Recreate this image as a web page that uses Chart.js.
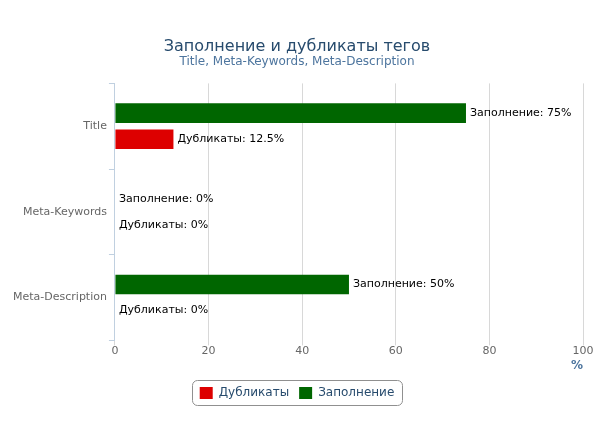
<!DOCTYPE html>
<html lang="ru">
<head>
    <meta charset="UTF-8">
    <title>Заполнение и дубликаты тегов</title>
    <script src="https://cdn.jsdelivr.net/npm/chart.js"></script>
    <style>
        body { margin: 0; background: #fff; }
        #wrap { width: 612px; height: 430px; }
    </style>
</head>
<body>
<div id="wrap"><canvas id="myChart"></canvas></div>
<script>
    const categories = ["Title", "Meta-Keywords", "Meta-Description"];
    const fillValues = [75, 0, 50];
    const dupValues = [12.5, 0, 0];
    const xTicks = [0, 20, 40, 60, 80, 100];

    Chart.defaults.font.family = "'DejaVu Sans', sans-serif";

    // подписи значений справа от полос
    const valueLabels = {
        id: "valueLabels",
        afterDatasetsDraw(chart) {
            const ctx = chart.ctx;
            ctx.save();
            ctx.font = "11px 'DejaVu Sans'";
            ctx.fillStyle = "#000";
            ctx.textBaseline = "middle";
            chart.data.datasets.forEach((ds, i) => {
                const meta = chart.getDatasetMeta(i);
                meta.data.forEach((bar, j) => {
                    ctx.fillText(ds.label + ": " + ds.data[j] + "%", bar.x + 4, bar.y);
                });
            });
            ctx.restore();
        }
    };

    // рамка вокруг легенды
    const legendBorder = {
        id: "legendBorder",
        afterDraw(chart) {
            const boxes = chart.legend.legendHitBoxes;
            if (!boxes.length) return;
            let l = Infinity, r = -Infinity, t = Infinity, b = -Infinity;
            boxes.forEach(h => {
                l = Math.min(l, h.left); r = Math.max(r, h.left + h.width);
                t = Math.min(t, h.top); b = Math.max(b, h.top + h.height);
            });
            const ctx = chart.ctx;
            ctx.save();
            ctx.strokeStyle = "#909090";
            ctx.lineWidth = 1;
            ctx.beginPath();
            ctx.roundRect(Math.round(l) - 7.5, Math.round(t) - 6.5, Math.round(r - l) + 15, Math.round(b - t) + 13, 5);
            ctx.stroke();
            ctx.restore();
        }
    };

    new Chart(document.getElementById("myChart"), {
        type: "bar",
        data: {
            labels: categories,
            datasets: [
                {
                    label: "Заполнение",
                    data: fillValues,
                    backgroundColor: "#006600",
                    borderWidth: 0
                },
                {
                    label: "Дубликаты",
                    data: dupValues,
                    backgroundColor: "#dd0000",
                    borderWidth: 0
                }
            ]
        },
        options: {
            indexAxis: "y",
            responsive: true,
            maintainAspectRatio: false,
            animation: false,
            categoryPercentage: 0.61,
            barPercentage: 0.75,
            layout: { padding: { left: 11, right: 29, top: 8, bottom: 21 } },
            plugins: {
                title: {
                    display: true,
                    text: "Заполнение и дубликаты тегов",
                    color: "#274b6d",
                    font: { size: 16, weight: "normal", lineHeight: 1.0 },
                    padding: { top: 31, bottom: 0 }
                },
                subtitle: {
                    display: true,
                    text: "Title, Meta-Keywords, Meta-Description",
                    color: "#4d759e",
                    font: { size: 12 },
                    padding: { top: 0, bottom: 14 }
                },
                legend: {
                    position: "bottom",
                    reverse: true,
                    labels: {
                        color: "#274b6d",
                        font: { size: 12 },
                        boxWidth: 13,
                        boxHeight: 12,
                        padding: 10
                    }
                },
                tooltip: { enabled: false }
            },
            scales: {
                x: {
                    min: 0,
                    max: 100,
                    afterBuildTicks: axis => { axis.ticks = xTicks.map(v => ({ value: v })); },
                    grid: { color: "#d8d8d8", tickLength: 5 },
                    border: { display: false },
                    ticks: { color: "#666", font: { size: 11 }, padding: -1 },
                    title: {
                        display: true,
                        text: "%",
                        align: "end",
                        color: "#4d759e",
                        font: { size: 12, weight: "bold" },
                        padding: { top: 2, bottom: 4 }
                    }
                },
                y: {
                    grid: {
                        display: true,
                        drawOnChartArea: false,
                        offset: true,
                        color: "#c0d0e0",
                        tickLength: 6
                    },
                    border: { display: true, color: "#c0d0e0" },
                    ticks: { color: "#666", font: { size: 11 }, padding: 2 }
                }
            }
        },
        plugins: [valueLabels, legendBorder]
    });
</script>
</body>
</html>
